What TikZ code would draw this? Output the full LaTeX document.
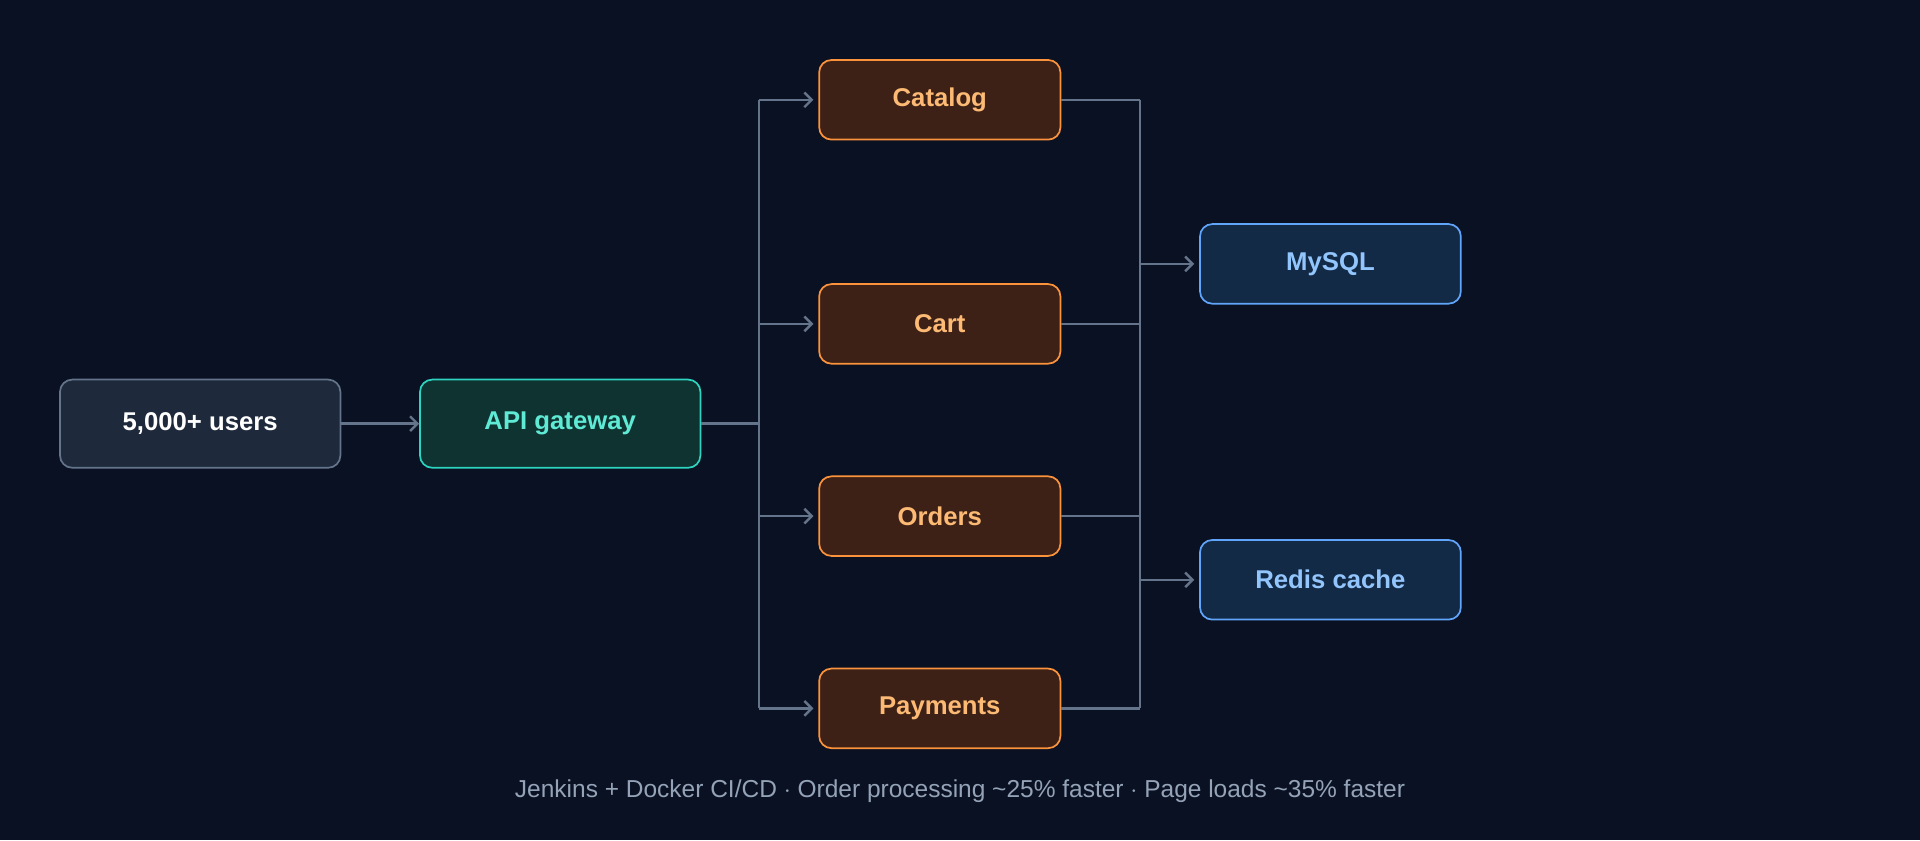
\documentclass[tikz,border=0pt]{standalone}
\usepackage{fontspec}
\setmainfont{Liberation Sans}
\usetikzlibrary{arrows.meta}
\definecolor{bg}{HTML}{0A1122}
\definecolor{ln}{HTML}{64748B}
\definecolor{ufill}{HTML}{1E293B}
\definecolor{gfill}{HTML}{0F3330}
\definecolor{gline}{HTML}{2DD4BF}
\definecolor{gtext}{HTML}{5EEAD4}
\definecolor{sfill}{HTML}{3D2116}
\definecolor{sline}{HTML}{FB923C}
\definecolor{stext}{HTML}{FDBA74}
\definecolor{dfill}{HTML}{132A46}
\definecolor{dline}{HTML}{60A5FA}
\definecolor{dtext}{HTML}{93C5FD}
\definecolor{ftext}{HTML}{94A3B8}
\begin{document}
\begin{tikzpicture}[x=1pt,y=-1pt,
  box/.style={rounded corners=10pt,line width=1.4pt,font=\bfseries\fontsize{21}{25}\selectfont,inner sep=0pt},
  ubox/.style={box,draw=ln,fill=ufill,text=white,minimum width=229pt,minimum height=72pt},
  gbox/.style={box,draw=gline,fill=gfill,text=gtext,minimum width=229pt,minimum height=72pt},
  sbox/.style={box,draw=sline,fill=sfill,text=stext,minimum width=197pt,minimum height=65pt},
  dbox/.style={box,draw=dline,fill=dfill,text=dtext,minimum width=213pt,minimum height=65pt},
  conn/.style={draw=ln,line width=2pt},
  arr/.style={conn,-{Straight Barb[length=6pt,width=12pt,line width=2pt]}}]
\fill[bg] (0,0) rectangle (1568,686);
\node[ubox] (users) at (163.5,346) {5,000+ users};
\node[gbox] (gw) at (457.5,346) {API gateway};
\node[sbox] (cat) at (767.5,81.5) {Catalog};
\node[sbox] (cart) at (767.5,264.5) {Cart};
\node[sbox] (ord) at (767.5,421.5) {Orders};
\node[sbox] (pay) at (767.5,578.5) {Payments};
\node[dbox] (sql) at (1086.5,215.5) {MySQL};
\node[dbox] (red) at (1086.5,473.5) {Redis cache};
\coordinate (lb) at (620,346);
\coordinate (lt) at (620,81.5);
\coordinate (lbot) at (620,578.5);
\coordinate (rt) at (931,81.5);
\coordinate (rbot) at (931,578.5);
\draw[arr] (users) -- (gw);
\draw[conn] (gw) -- (lb);
\draw[conn] (lt) -- (lbot);
\draw[conn] (rt) -- (rbot);
\foreach \n in {cat,cart,ord,pay}{
  \draw[arr] (lt |- \n) -- ([xshift=-4pt]\n.west);
  \draw[conn] (\n.east) -- (rt |- \n);
}
\foreach \n in {sql,red}{
  \draw[arr] (rt |- \n) -- ([xshift=-4pt]\n.west);
}
\node[text=ftext,font=\fontsize{20}{24}\selectfont] (foot) at (784,646) {Jenkins + Docker CI/CD $\cdot$ Order processing \textasciitilde25\% faster $\cdot$ Page loads \textasciitilde35\% faster};
\end{tikzpicture}
\end{document}
